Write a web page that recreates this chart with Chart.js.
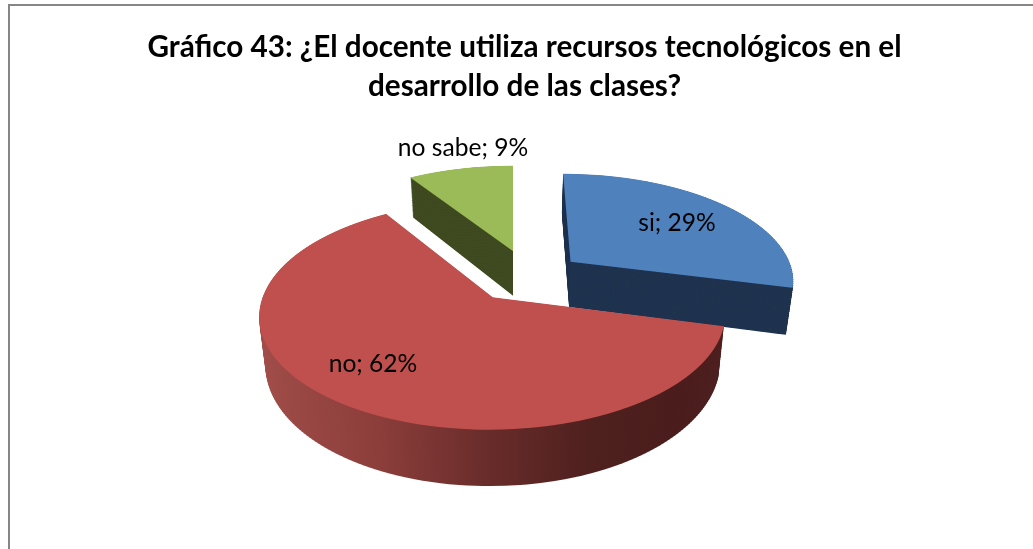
<!DOCTYPE html>
<html>
<head>
<meta charset="utf-8">
<style>
html,body{margin:0;padding:0;background:#fff;overflow:hidden}
#wrap{position:absolute;left:0;top:0;width:1033px;height:549px}
canvas{display:block}
</style>
<script src="https://cdn.jsdelivr.net/npm/chart.js@4/dist/chart.umd.min.js"></script>
</head>
<body>
<div id="wrap"><canvas id="c" width="1033" height="549"></canvas></div>
<script>
const categories = ['si', 'no', 'no sabe'];
const percentages = [29, 62, 9];
const titleLines = ['Gráfico 43: ¿El docente utiliza recursos tecnológicos en el', 'desarrollo de las clases?'];

const topColors = ['#4f81bd', '#c0504d', '#9bbb59'];
const wallColors = ['#1f334f', null, '#3f4a20'];
const redWallStops = [[0, '#a5504c'], [0.3, '#8c3e3b'], [0.5, '#682c2a'], [0.68, '#4e201e'], [0.85, '#4a1d1c'], [1, '#4e2020']];
// explosion of each slice in the disk plane (fractions of radius)
const explodeU = [0.263, -0.088, 0];
const explodeV = [-0.1, 0.235, -0.207];
const drawOrder = [2, 0, 1];
const labelCenters = [[677, 223], [373, 364], [463, 148]];
// perspective camera
const cam = {X0: 513, Y0: 272, Rx: 222, Ry: 104, p: 0.15, D: 46, shrink: 0.025};

function renderSlice(ctx, arc, i, zMode, fill) {
  const Rs = arc.outerRadius, ax = arc.x, ay = arc.y;
  const ou = explodeU[i], ov = explodeV[i];
  const {X0, Y0, Rx, Ry, p, D, shrink} = cam;
  const clone = Object.create(arc);
  clone.options = Object.assign({}, arc.options, {backgroundColor: fill, borderWidth: 0, offset: 0, spacing: 0});
  // v range of the slice
  let vMin = ov, vMax = ov;
  for (let k = 0; k <= 90; k++) {
    const t = arc.startAngle + (arc.endAngle - arc.startAngle) * k / 90;
    const v = ov + Math.sin(t);
    vMin = Math.min(vMin, v); vMax = Math.max(vMax, v);
  }
  const dz = zMode.z * D, h = zMode.h;
  const rx = Rx * (1 - shrink * zMode.z);
  const yOf = v => Y0 + (Ry * v + dz) / (1 - p * v);
  const vOf = Y => { const T = Y - Y0; return (T - dz) / (Ry + p * T); };
  const top = Math.floor(yOf(vMin)) - 1, bot = Math.ceil(yOf(vMax)) + 1;
  const base = ctx.getTransform();
  for (let Y = top; Y < bot; Y += h) {
    const v1 = vOf(Y), v2 = vOf(Y + h), vm = (v1 + v2) / 2;
    const s = 1 / (1 - p * vm);
    const a = rx * s / Rs;
    const e = X0 + rx * s * (ou - ax / Rs);
    const d = h / (Rs * (v2 - v1));
    const f = Y - d * (ay + Rs * (v1 - ov));
    ctx.save();
    ctx.beginPath();
    ctx.rect(0, Y, ctx.canvas.width, h);
    ctx.clip();
    ctx.setTransform(a, 0, 0, d, e, f);
    clone.draw(ctx);
    ctx.restore();
  }
  ctx.setTransform(base);
}

const pie3d = {
  id: 'pie3d',
  beforeDraw(chart) {
    const ctx = chart.ctx;
    ctx.save();
    ctx.fillStyle = '#fff';
    ctx.fillRect(0, 0, chart.width, chart.height);
    ctx.fillStyle = '#868686';
    ctx.fillRect(8, 4, chart.width - 8, 2);
    ctx.fillRect(8, 4, 2, chart.height - 4);
    ctx.restore();
  },
  beforeDatasetsDraw(chart) {
    const ctx = chart.ctx;
    const arcs = chart.getDatasetMeta(0).data;
    drawOrder.forEach(i => {
      const arc = arcs[i];
      let wall = wallColors[i];
      if (!wall) {
        wall = ctx.createLinearGradient(arc.x - arc.outerRadius * 1.05, 0, arc.x + arc.outerRadius * 1.05, 0);
        redWallStops.forEach(st => wall.addColorStop(st[0], st[1]));
      }
      for (let z = 1; z > 0; z -= 0.018) renderSlice(ctx, arc, i, {z, h: 2}, wall);
      renderSlice(ctx, arc, i, {z: 0, h: 1}, topColors[i]);
    });
    ctx.save();
    ctx.fillStyle = '#000';
    ctx.font = '24.6px Lato';
    ctx.textAlign = 'center';
    ctx.textBaseline = 'middle';
    categories.forEach((c, i) => ctx.fillText(c + '; ' + percentages[i] + '%', labelCenters[i][0], labelCenters[i][1]));
    ctx.restore();
    return false;
  }
};

new Chart(document.getElementById('c'), {
  type: 'pie',
  data: {
    labels: categories,
    datasets: [{data: percentages, backgroundColor: topColors, borderWidth: 0}]
  },
  options: {
    responsive: false,
    animation: false,
    events: [],
    layout: {padding: {left: 16}},
    plugins: {
      legend: {display: false},
      tooltip: {enabled: false},
      title: {
        display: true,
        text: titleLines,
        color: '#000',
        font: {family: 'Lato', size: 29.7, weight: 'bold', lineHeight: 1.31},
        padding: {top: 28, bottom: 10}
      }
    }
  },
  plugins: [pie3d]
});
</script>
</body>
</html>
